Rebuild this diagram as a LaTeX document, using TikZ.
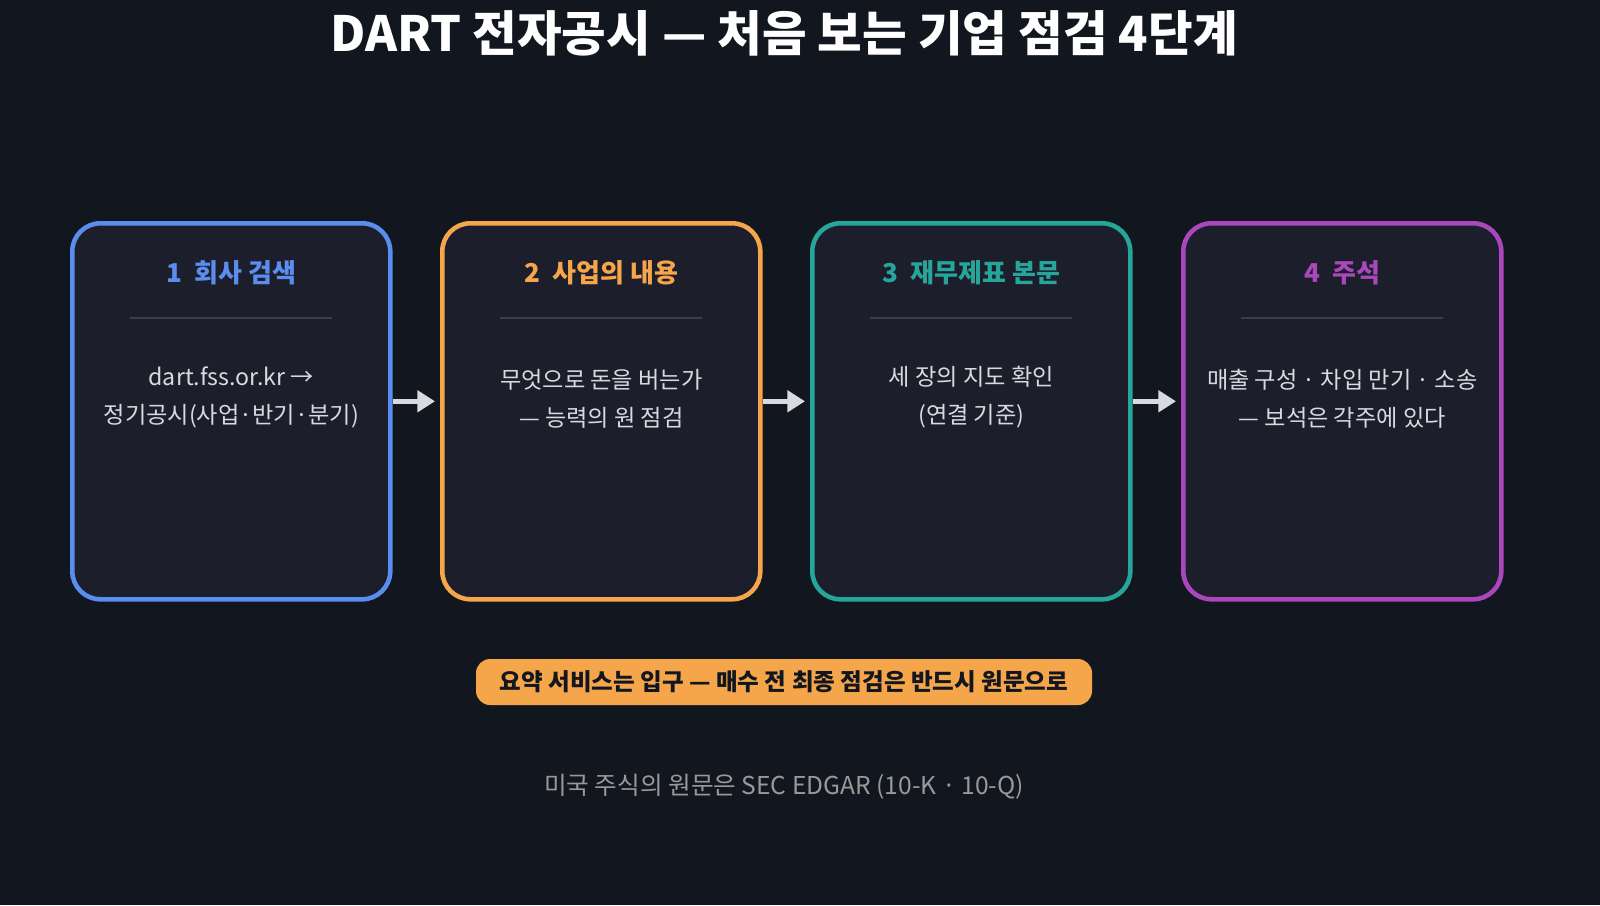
\documentclass[tikz,border=0pt]{standalone}
\usepackage{fontspec}
\setmainfont{Noto Sans CJK KR}
\usetikzlibrary{positioning, arrows.meta}
\definecolor{bgdark}{HTML}{12161F}
\definecolor{cardbg}{HTML}{1C1F2B}
\definecolor{divider}{HTML}{3A3E4A}
\definecolor{stepblue}{HTML}{5B8DEF}
\definecolor{steporange}{HTML}{F5A54A}
\definecolor{stepteal}{HTML}{26A69A}
\definecolor{steppurple}{HTML}{AB47BC}
\definecolor{bodytext}{HTML}{D8DAE0}
\tikzset{
  card/.style={rectangle, rounded corners=8pt, line width=1.3pt, fill=cardbg,
    minimum width=3.18cm, minimum height=3.76cm, anchor=north west},
  cardtitle/.style={font=\fontsize{7.4}{9}\selectfont\bfseries},
  cardtext/.style={text=bodytext, align=center, font=\fontsize{6.6}{10.8}\selectfont},
  arrow/.style={line width=1.4pt, draw=bodytext, -{Triangle[length=5pt,width=6pt]}}
}
\begin{document}
\begin{tikzpicture}[x=1cm,y=1cm]
\fill[bgdark] (0,0) rectangle (16,9.05);
\useasboundingbox (0,0) rectangle (16,9.05);

\node (title) at (7.84,8.72) [text=white, font=\fontsize{13.8}{17}\selectfont\bfseries]
   {DART 전자공시 — 처음 보는 기업 점검 4단계};

% four steps
\node (s1) [card, draw=stepblue] at (0.70,6.84) {};
\node (s2) [card, draw=steporange] at (4.40,6.84) {};
\node (s3) [card, draw=stepteal] at (8.10,6.84) {};
\node (s4) [card, draw=steppurple] at (11.81,6.84) {};

\foreach \s/\c/\t in {s1/stepblue/1\ \ 회사 검색, s2/steporange/2\ \ 사업의 내용,
    s3/stepteal/3\ \ 재무제표 본문, s4/steppurple/4\ \ 주석}{
  \node (\s t) [cardtitle, text=\c] at ([yshift=-0.52cm]\s.north) {\t};
  \draw [divider, line width=0.6pt] ([xshift=-1.01cm,yshift=-0.97cm]\s.north)
     -- ([xshift=1.01cm,yshift=-0.97cm]\s.north);
}

\node (s1b) [cardtext] at ([yshift=-1.76cm]s1.north) {dart.fss.or.kr →\\정기공시(사업·반기·분기)};
\node (s2b) [cardtext] at ([yshift=-1.78cm]s2.north) {무엇으로 돈을 버는가\\— 능력의 원 점검};
\node (s3b) [cardtext] at ([yshift=-1.76cm]s3.north) {세 장의 지도 확인\\(연결 기준)};
\node (s4b) [cardtext] at ([yshift=-1.78cm]s4.north) {매출 구성 · 차입 만기 · 소송\\— 보석은 각주에 있다};

\draw [arrow] ([yshift=0.1cm]s1.east) -- ([xshift=-0.05cm,yshift=0.1cm]s2.west);
\draw [arrow] ([yshift=0.1cm]s2.east) -- ([xshift=-0.05cm,yshift=0.1cm]s3.west);
\draw [arrow] ([yshift=0.1cm]s3.east) -- ([xshift=-0.05cm,yshift=0.1cm]s4.west);

\node (note) at (7.84,2.23) [fill=steporange, rounded corners=4pt, text=bgdark,
   minimum width=6.16cm, minimum height=0.46cm, inner sep=0pt,
   font=\fontsize{6.7}{9}\selectfont\bfseries]
   {요약 서비스는 입구 — 매수 전 최종 점검은 반드시 원문으로};
\node (foot) at (7.84,1.18) [text=gray!80, font=\fontsize{7}{9}\selectfont]
   {미국 주식의 원문은 SEC EDGAR (10-K · 10-Q)};
\end{tikzpicture}
\end{document}
